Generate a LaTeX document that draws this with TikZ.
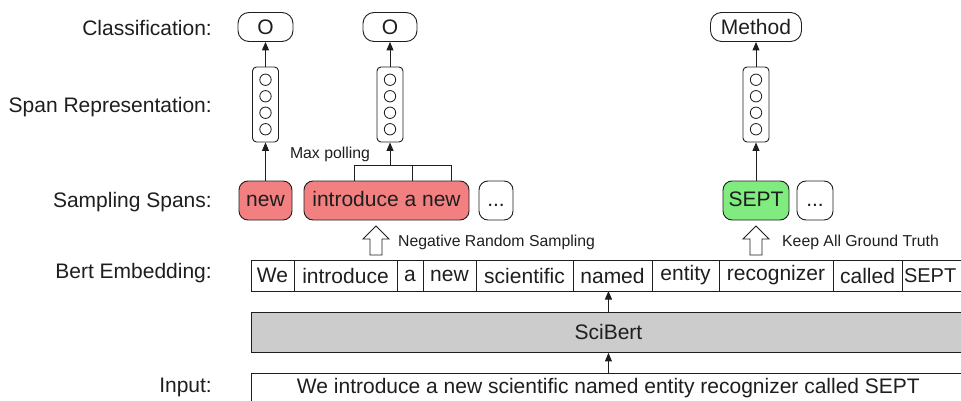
\documentclass[tikz,border=0pt]{standalone}
\usepackage{fontspec}
\setmainfont{Liberation Sans}
\usetikzlibrary{arrows.meta}
\definecolor{spanred}{RGB}{242,128,128}
\definecolor{spangreen}{RGB}{128,236,128}
\definecolor{bertgray}{RGB}{204,204,204}
\definecolor{ink}{RGB}{30,30,30}
\begin{document}
\begin{tikzpicture}[x=1pt,y=-1pt,
  every node/.style={font=\fontsize{21}{25}\selectfont, inner sep=0pt, text=ink},
  lab/.style={anchor=east},
  small/.style={font=\fontsize{15.8}{19}\selectfont},
  box/.style={draw=ink, line width=0.9pt},
  pill/.style={box, rounded corners=11pt, fill=white, minimum height=29pt},
  spanbox/.style={box, rounded corners=9pt, minimum height=39pt, text height=15pt, text depth=4pt},
  vec/.style={box, rounded corners=4pt, minimum width=26pt, minimum height=75pt},
  dotc/.style={circle, draw=ink, line width=0.8pt, minimum size=11.4pt},
  tok/.style={draw=ink, line width=0.9pt, minimum height=31pt, anchor=west, outer sep=0pt},
  arr/.style={-{Triangle[width=7pt,length=8.5pt]}, line width=0.9pt, draw=ink},
  link/.style={line width=0.9pt, draw=ink},
  hol/.style={draw=ink, fill=white, line width=0.9pt, line join=miter}
]
\useasboundingbox (0,0) rectangle (961,401);
\clip (0,0) rectangle (961,401);

% left labels
\node[lab] (lcls) at (212,28) {Classification:};
\node[lab] (lspan) at (212,107) {Span Representation:};
\node[lab] (lsamp) at (212,202) {Sampling Spans:};
\node[lab] (lbert) at (212,273) {Bert Embedding:};
\node[lab] (linp) at (212,387) {Input:};

% classification
\node[pill, minimum width=55pt] (c1) at (265.5,27) {O};
\node[pill, minimum width=54pt] (c2) at (390,27) {O};
\node[pill, minimum width=91pt] (c3) at (756,27) {Method};

% span representations
\foreach \n/\x in {v1/265.5, v2/390, v3/756}{
  \node[vec] (\n) at (\x,104.5) {};
  \foreach \k/\dy in {a/-24.75, b/-8.25, c/8.25, d/24.75}{
    \node[dotc] (\n\k) at (\x,104.5+\dy) {};
  }
}

% sampling spans
\node[spanbox, fill=spanred, minimum width=53pt] (s1) at (265.5,200.5) {new};
\node[spanbox, fill=spanred, minimum width=165pt] (s2) at (386.5,200.5) {introduce a new};
\node[spanbox, fill=white, minimum width=34pt] (s3) at (496,200.5) {...};
\node[spanbox, fill=spangreen, minimum width=66pt] (s4) at (756,200.5) {SEPT};
\node[spanbox, fill=white, minimum width=36pt] (s5) at (815,200.5) {...};

% connectors up
\draw[arr] (s1.north) -- (v1.south);
\draw[arr] (v1.north) -- (c1.south);
\draw[arr] (v2.north) -- (c2.south);
\draw[arr] (s4.north) -- (v3.south);
\draw[arr] (v3.north) -- (c3.south);

% max pooling bracket
\coordinate (b1) at (354,165);
\coordinate (bm) at (412,165);
\coordinate (b3) at (451,165);
\draw[link] (s2.north -| b1) -- (b1) -- (b3) -- (s2.north -| b3);
\draw[link] (bm) -- (s2.north -| bm);
\draw[arr] (v2.south |- b1) -- (v2.south);
\node[small] (mp) at (330,154) {Max polling};

% hollow sampling arrows
\draw[hol] (376,226) -- (389,239) -- (382,239) -- (382,255) -- (370,255) -- (370,239) -- (363,239) -- cycle;
\node[small, anchor=west] (neg) at (398,242) {Negative Random Sampling};
\draw[hol] (756,226) -- (769,239) -- (762,239) -- (762,255) -- (750,255) -- (750,239) -- (743,239) -- cycle;
\node[small, anchor=west] (keep) at (782,242) {Keep All Ground Truth};

% token row
\node[tok, minimum width=43pt] (t1) at (251,275.5) {We};
\node[tok, minimum width=103pt] (t2) at (t1.east) {introduce};
\node[tok, minimum width=26pt] (t3) at (t2.east) {a};
\node[tok, minimum width=53pt] (t4) at (t3.east) {new};
\node[tok, minimum width=97pt] (t5) at (t4.east) {scientific};
\node[tok, minimum width=79pt] (t6) at (t5.east) {named};
\node[tok, minimum width=67pt] (t7) at (t6.east) {entity};
\node[tok, minimum width=114pt] (t8) at (t7.east) {recognizer};
\node[tok, minimum width=69pt] (t9) at (t8.east) {called};
\node[tok, draw=none, inner xsep=2pt, font=\fontsize{20}{24}\selectfont] (t10) at (t9.east) {SEPT};
\draw[link] (t10.north west) -- ++(70,0);
\draw[link] (t10.south west) -- ++(70,0);

% SciBert and input
\node[box, fill=bertgray, minimum width=714pt, minimum height=40pt, anchor=north west] (sci) at (251,312) {SciBert};
\node[box, fill=white, minimum width=714pt, minimum height=30pt, anchor=north west] (inp) at (251,373) {We introduce a new scientific named entity recognizer called SEPT};

\draw[arr] (sci.north) -- (sci.north |- t6.south);
\draw[arr] (inp.north) -- (sci.south);
\end{tikzpicture}
\end{document}
